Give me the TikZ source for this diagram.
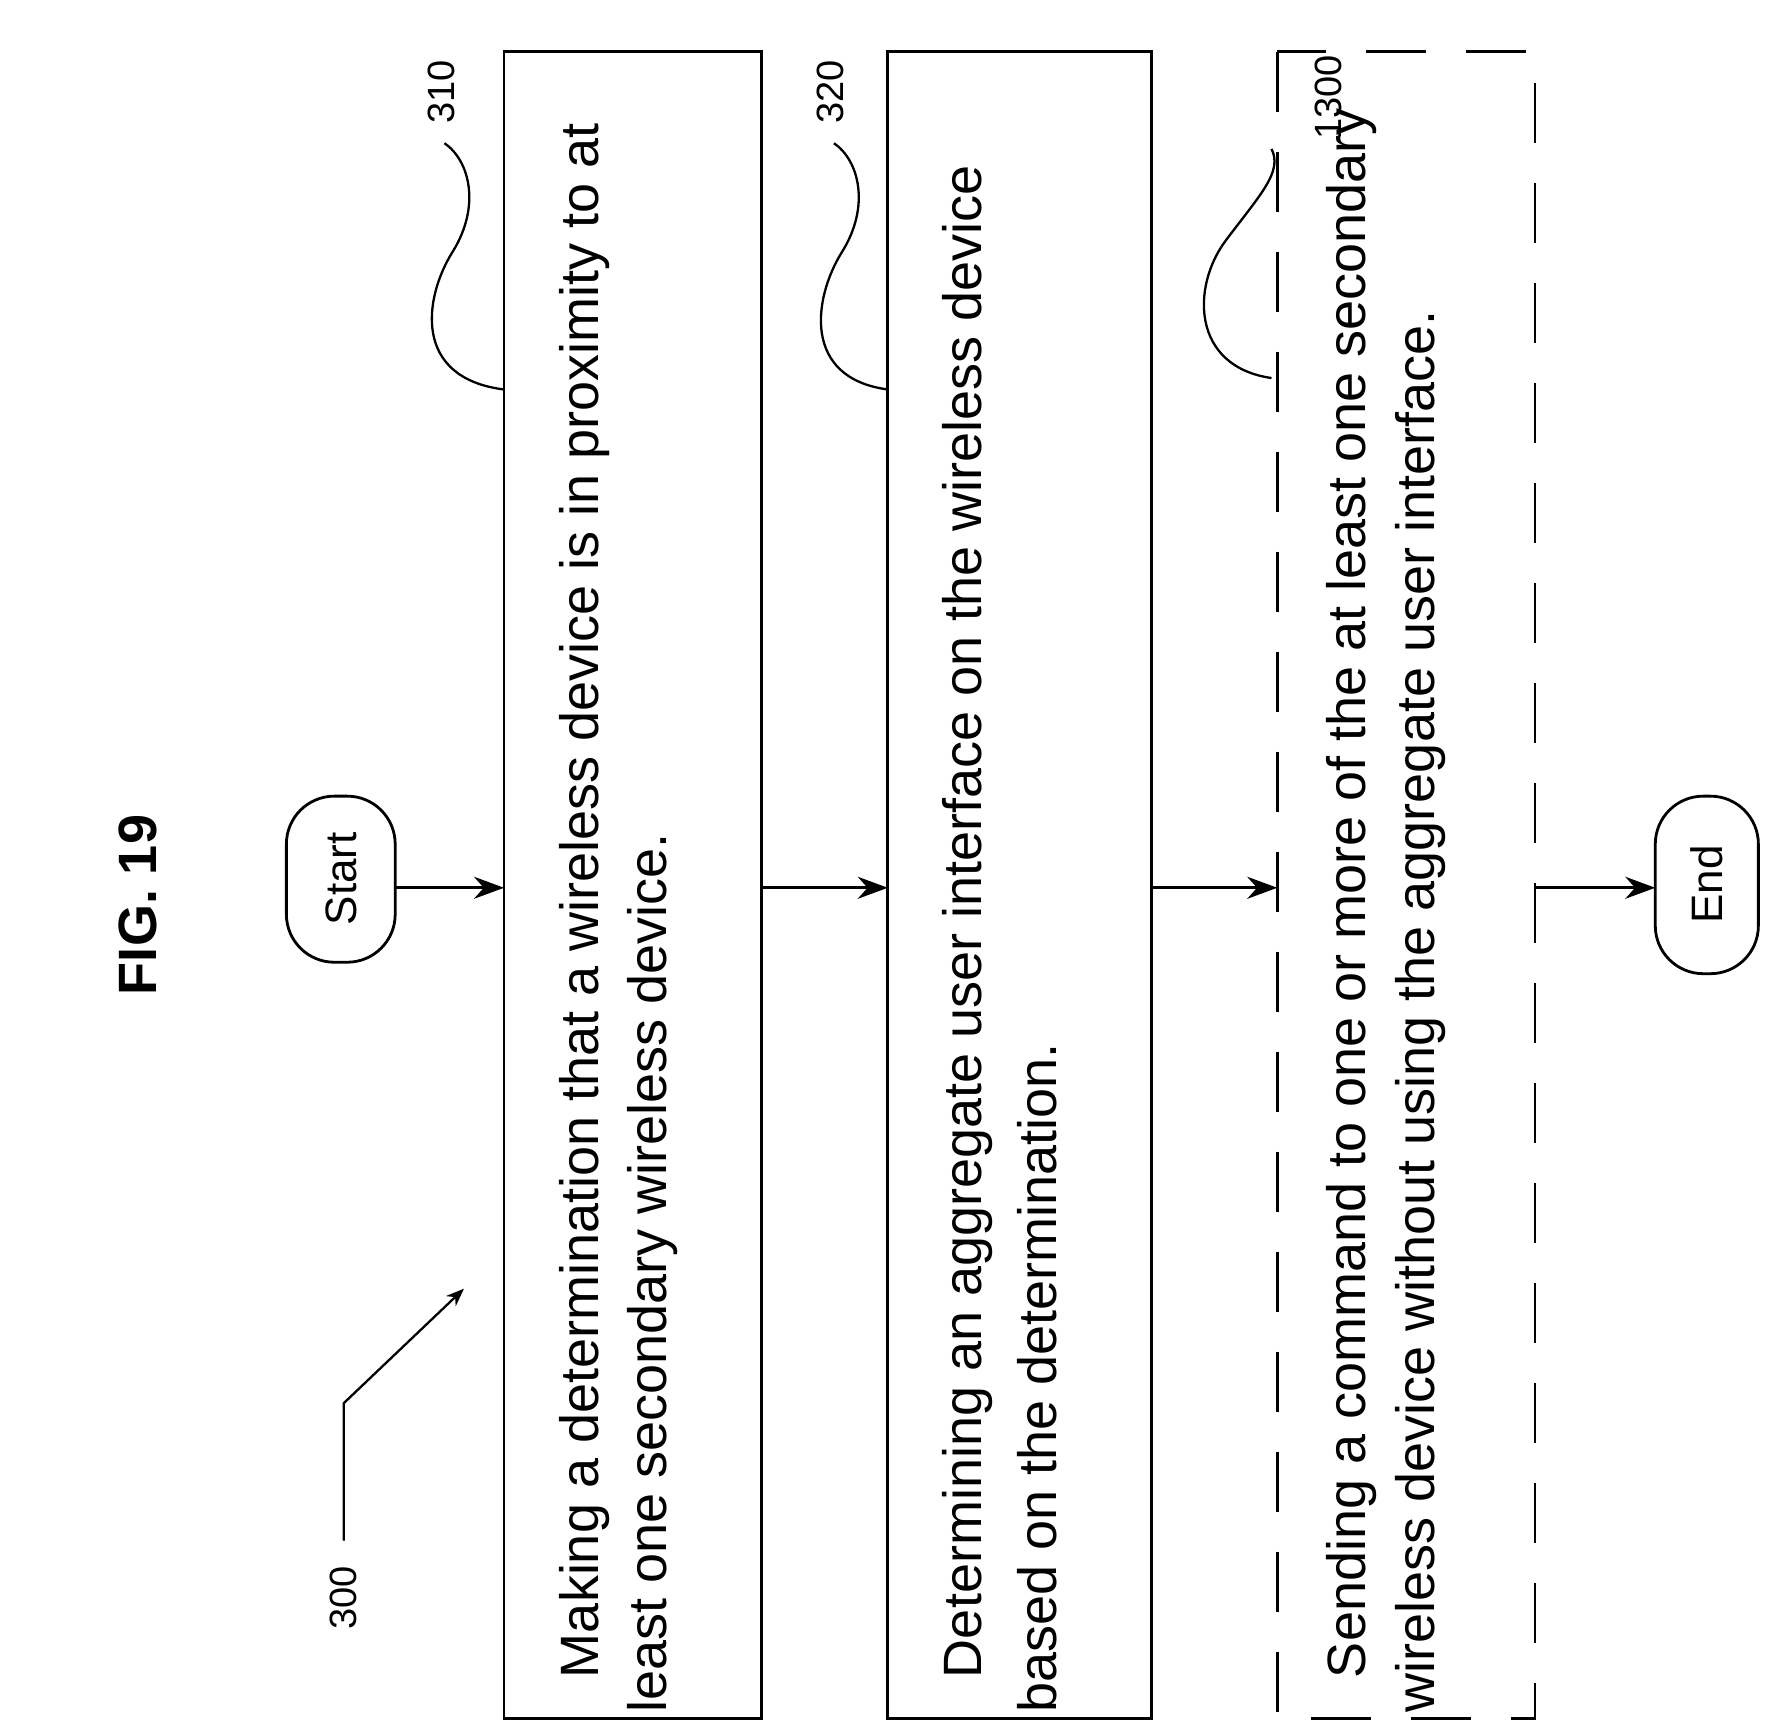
\documentclass[tikz,border=0pt]{standalone}
\usepackage{fontspec}
\setmainfont{Liberation Sans}
\usetikzlibrary{arrows.meta}
\begin{document}
\begin{tikzpicture}[x=1.1455pt,y=-1.1455pt,
  box/.style={draw,line width=2.8pt},
  term/.style={draw,line width=2.8pt,rounded corners=48pt},
  txt/.style={rotate=90,anchor=west,font=\fontsize{54}{60}\selectfont,inner sep=0},
  lbl/.style={rotate=90,font=\fontsize{38}{44}\selectfont,inner sep=0},
  arr/.style={line width=2.8pt,-{Stealth[length=30pt,width=22pt]}},
  sq/.style={line width=2.3pt}]
\useasboundingbox (0,0) rectangle (1560,1514);
\node[lbl,font=\bfseries\fontsize{54}{60}\selectfont] (fig) at (120,790) {FIG. 19};
\draw[term] (250,695) rectangle (345,840);
\node[lbl,font=\fontsize{44}{50}\selectfont] (start) at (298,767) {Start};
\coordinate (startR) at (345,775);
\draw[box] (440,45) rectangle (665,1500);
\coordinate (b1L) at (440,775); \coordinate (b1R) at (665,775);
\node[txt] (t1a) at (510,1465) {Making a determination that a wireless device is in proximity to at};
\node[txt] (t1b) at (570,1495) {least one secondary wireless device.};
\draw[box] (775,45) rectangle (1005,1500);
\coordinate (b2L) at (775,775); \coordinate (b2R) at (1005,775);
\node[txt] (t2a) at (845,1465) {Determining an aggregate user interface on the wireless device};
\node[txt] (t2b) at (905,1495) {based on the determination.};
\draw[box,dash pattern=on 60pt off 40pt] (1115,45) rectangle (1340,1500);
\coordinate (b3L) at (1115,775); \coordinate (b3R) at (1340,775);
\node[txt] (t3a) at (1180,1465) {Sending a command to one or more of the at least one secondary};
\node[txt] (t3b) at (1240,1495) {wireless device without using the aggregate user interface.};
\draw[term] (1445,695) rectangle (1535,850);
\node[lbl,font=\fontsize{44}{50}\selectfont] (end) at (1490,772) {End};
\coordinate (endL) at (1445,775);
\draw[arr] (startR) -- (b1L);
\draw[arr] (b1R) -- (b2L);
\draw[arr] (b2R) -- (b3L);
\draw[arr] (b3R) -- (endL);
\node[lbl] (l310) at (385,80) {310};
\node[lbl] (l320) at (725,80) {320};
\node[lbl] (l1300) at (1160,85) {1300};
\node[lbl] (l300) at (300,1395) {300};
\draw[sq] (440,340) .. controls (360,330) and (370,260) .. (395,220) .. controls (420,180) and (410,140) .. (388,125);
\draw[sq] (775,340) .. controls (700,330) and (710,260) .. (735,220) .. controls (760,180) and (750,140) .. (728,125);
\draw[sq] (1110,330) .. controls (1040,320) and (1040,250) .. (1070,210) .. controls (1100,170) and (1120,150) .. (1110,130);
\coordinate (a300) at (405,1125);
\draw[sq,-{Stealth[length=18pt,width=14pt]}] (300,1345) -- (300,1225) -- (a300);
\end{tikzpicture}
\end{document}
